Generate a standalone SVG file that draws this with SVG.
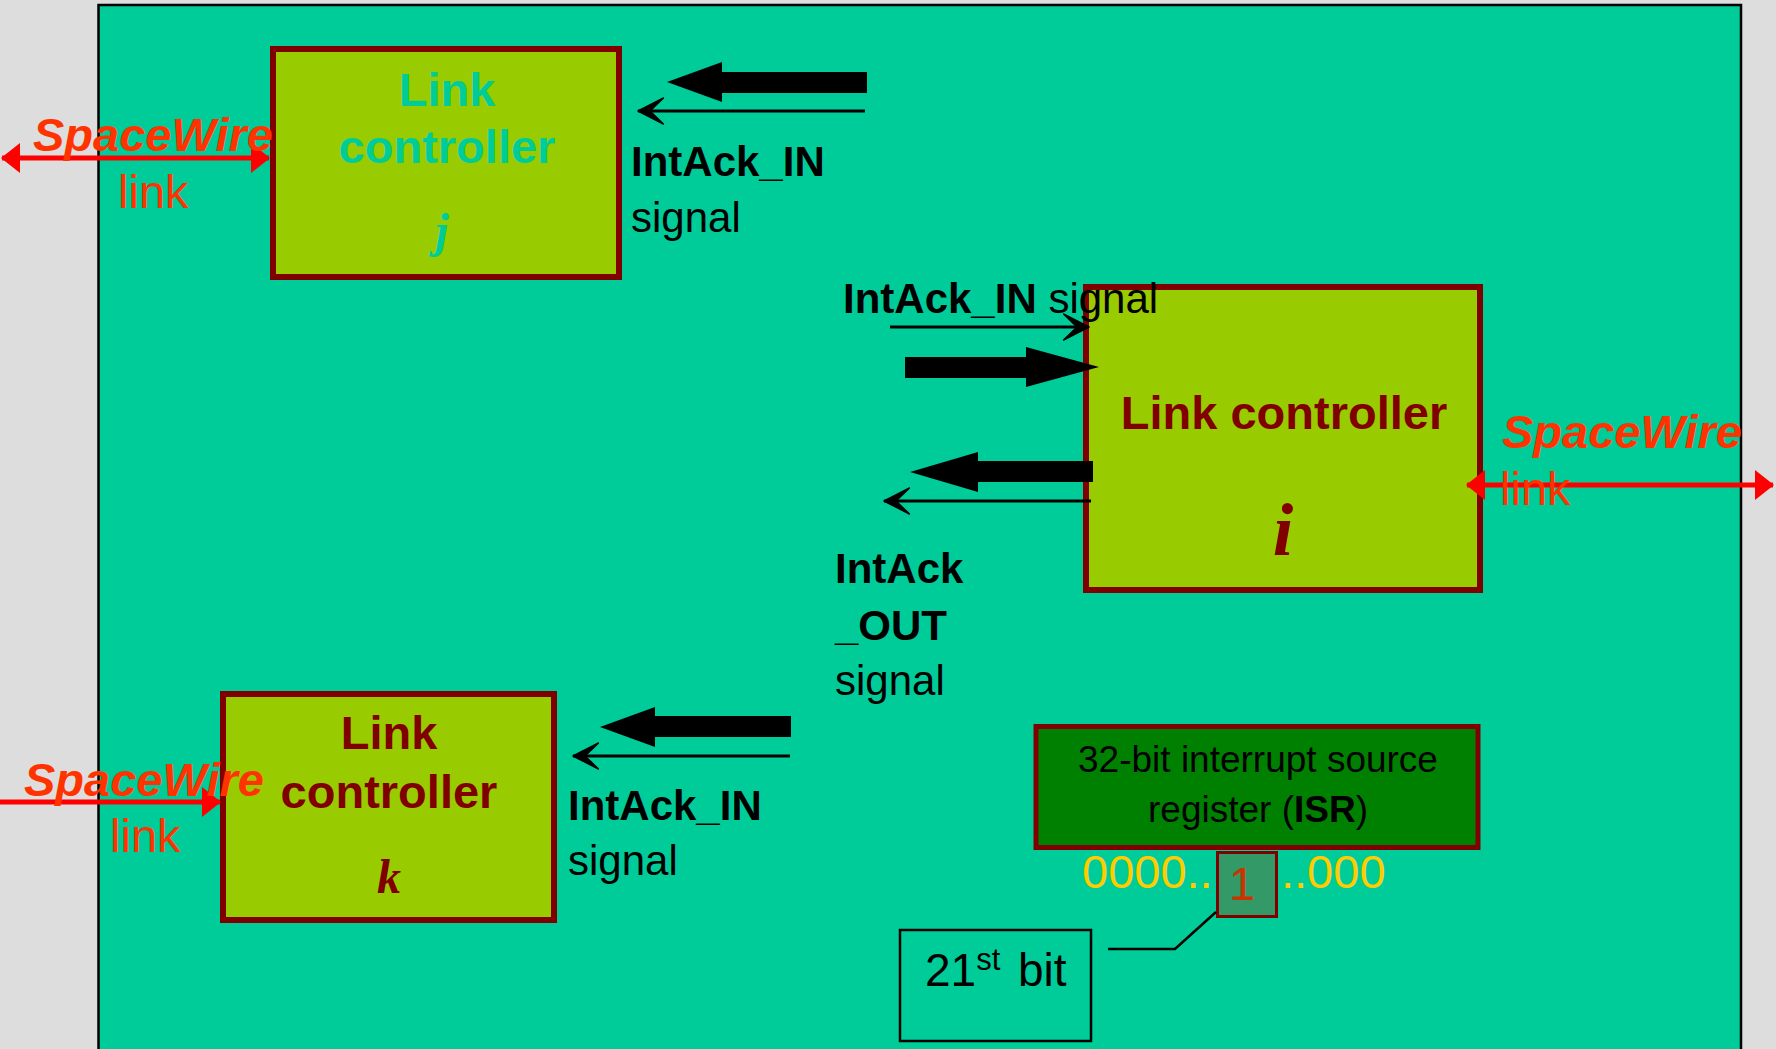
<svg xmlns="http://www.w3.org/2000/svg" width="1776" height="1049" viewBox="0 0 1776 1049">
<defs>
<style>
text{font-family:"Liberation Sans",Arial,sans-serif}
.box{fill:#99cc00;stroke:#800000;stroke-width:6}
.big{font-size:47px;font-weight:bold}
.sig{font-size:42px;fill:#000}
.b{font-weight:bold}
.sw{font-size:47px;font-weight:bold;font-style:italic;fill:#ff3300}
.lk{font-size:47px;fill:#ff3300}
.idx{font-family:"Liberation Serif","Times New Roman",serif;font-weight:bold;font-style:italic}
.thin{stroke:#000;stroke-width:3;fill:none}
.red{stroke:#ff0000;stroke-width:5;fill:none}
</style>
<marker id="stealth" markerUnits="userSpaceOnUse" viewBox="0 0 27 28" refX="26" refY="14" markerWidth="27" markerHeight="28" orient="auto">
<path d="M0.5,1 L26,14 L0.5,27 L14,14 Z" fill="#000" stroke="#000" stroke-width="1.5" stroke-linejoin="round"/>
</marker>
<marker id="redhead" markerUnits="userSpaceOnUse" viewBox="0 0 19 30" refX="18" refY="15" markerWidth="19" markerHeight="30" orient="auto-start-reverse">
<path d="M0,0 L19,15 L0,30 Z" fill="#ff0000"/>
</marker>
</defs>
<rect x="0" y="0" width="1776" height="1049" fill="#dddddd"/>
<rect x="98.5" y="5" width="1642.5" height="1060" fill="#00cc99" stroke="#000" stroke-width="2.5"/>

<g id="node-j">
<rect class="box" x="273" y="49" width="346" height="228"/>
<text class="big" x="447" y="106" text-anchor="middle" fill="#00cc99">Link</text>
<text class="big" x="447" y="163" text-anchor="middle" fill="#00cc99">controller</text>
<text class="idx" x="442" y="247" font-size="48" text-anchor="middle" fill="#00cc99">j</text>
</g>

<g id="node-i">
<rect class="box" x="1086" y="287" width="394" height="303"/>
<text class="big" x="1284" y="429" text-anchor="middle" fill="#800000">Link controller</text>
<text class="idx" x="1283" y="555" font-size="74" text-anchor="middle" fill="#800000">i</text>
</g>

<g id="node-k">
<rect class="box" x="223" y="694" width="331" height="226"/>
<text class="big" x="389" y="749" text-anchor="middle" fill="#800000">Link</text>
<text class="big" x="389" y="808" text-anchor="middle" fill="#800000">controller</text>
<text class="idx" x="389" y="893" font-size="48" text-anchor="middle" fill="#800000">k</text>
</g>

<g id="node-isr">
<rect x="1036" y="726.5" width="442" height="121" fill="#008000" stroke="#800000" stroke-width="5"/>
<text x="1258" y="772" font-size="37" text-anchor="middle" fill="#000">32-bit interrupt source</text>
<text x="1258" y="822" font-size="37" text-anchor="middle" fill="#000">register (<tspan font-weight="bold">ISR</tspan>)</text>
<text x="1082" y="888" font-size="47" fill="#ffcc00">0000..</text>
<text x="1281" y="888" font-size="47" fill="#ffcc00">..000</text>
</g>

<g id="node-bit">
<rect x="1217.5" y="852.5" width="59" height="64" fill="#339966" stroke="#800000" stroke-width="3"/>
<text x="1242" y="900" font-size="47" text-anchor="middle" fill="#cc3300">1</text>
</g>

<g id="node-21st">
<rect x="900" y="930" width="191" height="111" fill="none" stroke="#000" stroke-width="2.5"/>
<text x="925" y="986" font-size="46" fill="#000">21<tspan font-size="31" dy="-16">st</tspan><tspan x="1018" dy="16">bit</tspan></text>
</g>

<g id="labels">
<text class="sig" x="631" y="176"><tspan class="b">IntAck_IN</tspan></text>
<text class="sig" x="631" y="232">signal</text>
<text class="sig" x="843" y="313"><tspan class="b">IntAck_IN</tspan> signal</text>
<text class="sig b" x="835" y="583">IntAck</text>
<text class="sig b" x="835" y="640">_OUT</text>
<text class="sig" x="835" y="695">signal</text>
<text class="sig" x="568" y="820"><tspan class="b">IntAck_IN</tspan></text>
<text class="sig" x="568" y="875">signal</text>
</g>

<g id="connectors">
<polygon points="867,72 722,72 722,62 667,82 722,102 722,93 867,93" fill="#000"/>
<line class="thin" x1="865" y1="111" x2="638" y2="111" marker-end="url(#stealth)"/>
<line class="thin" x1="890" y1="327" x2="1089" y2="327" marker-end="url(#stealth)"/>
<polygon points="905,357 1026,357 1026,347 1099,367 1026,387 1026,378 905,378" fill="#000"/>
<polygon points="1093,461 978,461 978,452 910,472 978,492 978,482 1093,482" fill="#000"/>
<line class="thin" x1="1091" y1="501" x2="884" y2="501" marker-end="url(#stealth)"/>
<polygon points="791,716 655,716 655,707 600,727 655,747 655,737 791,737" fill="#000"/>
<line class="thin" x1="790" y1="756" x2="573" y2="756" marker-end="url(#stealth)"/>
<polyline points="1108,949 1175,949 1216,912" fill="none" stroke="#000" stroke-width="2.5"/>
<line class="red" x1="2" y1="158" x2="269" y2="158" marker-start="url(#redhead)" marker-end="url(#redhead)"/>
<line class="red" x1="1467" y1="485" x2="1773" y2="485" marker-start="url(#redhead)" marker-end="url(#redhead)"/>
<line class="red" x1="0" y1="802" x2="220" y2="802" marker-end="url(#redhead)"/>
</g>

<g id="spacewire-labels">
<text class="sw" x="33" y="151">SpaceWire</text>
<text class="lk" x="118" y="208">link</text>
<text class="sw" x="1502" y="448">SpaceWire</text>
<text class="lk" x="1500" y="505">link</text>
<text class="sw" x="24" y="796">SpaceWire</text>
<text class="lk" x="110" y="852">link</text>
</g>
</svg>
